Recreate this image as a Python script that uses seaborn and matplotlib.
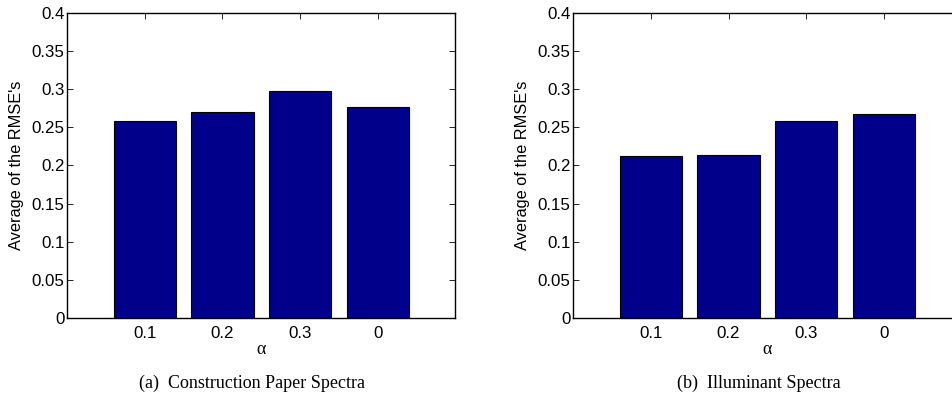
import matplotlib
matplotlib.use("Agg")
import matplotlib.pyplot as plt
import seaborn as sns
import pandas as pd

sns.set_theme(style="white")
plt.rcParams['font.family'] = ['Liberation Sans', 'DejaVu Sans']

alpha_labels = ["0.1", "0.2", "0.3", "0"]
paper_rmse = [0.2585, 0.270, 0.298, 0.2765]
illum_rmse = [0.2118, 0.214, 0.258, 0.2677]
captions = ["(a)  Construction Paper Spectra", "(b)  Illuminant Spectra"]
ylabel = "Average of the RMSE's"
yticks = [0, 0.05, 0.1, 0.15, 0.2, 0.25, 0.3, 0.35, 0.4]
ytick_labels = ["0", "0.05", "0.1", "0.15", "0.2", "0.25", "0.3", "0.35", "0.4"]

W, H = 953, 396
fig = plt.figure(figsize=(W / 100, H / 100), dpi=100)

ax_w = 388 / W
ax_h = (318 - 12.7) / H
ax_b = (H - 318) / H
lefts = [67.3 / W, 573.3 / W]
cap_x = [252 / W, 759 / W]
label_x = [17 / W, 523 / W]

for i, vals in enumerate([paper_rmse, illum_rmse]):
    ax = fig.add_axes([lefts[i], ax_b, ax_w, ax_h])
    df = pd.DataFrame({"alpha": alpha_labels, "rmse": vals})
    sns.barplot(data=df, x="alpha", y="rmse", order=alpha_labels, ax=ax,
                color="#00008B", saturation=1, width=0.8,
                edgecolor="black", linewidth=0.8)
    ax.set_xlim(-1, 4)
    ax.set_ylim(0, 0.4)
    ax.set_yticks(yticks)
    ax.set_yticklabels(ytick_labels)
    ax.tick_params(axis="both", direction="in", length=4, width=0.6,
                   labelsize=12.2, top=True, right=True, bottom=True, left=True,
                   color="black", labelcolor="black", pad=2)
    ax.tick_params(axis="x", pad=6)
    for s in ax.spines.values():
        s.set_visible(True)
        s.set_color("black")
        s.set_linewidth(1.0)
    ax.set_xlabel("")
    ax.set_ylabel("")
    fig.text(label_x[i], (H - 165) / H, ylabel, rotation=90, ha="center",
             va="center", fontsize=11.8, color="black")
    fig.text((lefts[i] * W + 194) / W, (H - 350) / H, "α", ha="center",
             va="center", fontsize=13, color="black", family=["Liberation Serif", "DejaVu Serif"])
    fig.text(cap_x[i], (H - 383) / H, captions[i], ha="center", va="center",
             fontsize=13, color="black", family=["Liberation Serif", "DejaVu Serif"])

fig.savefig("out.png", dpi=100, facecolor="white")
